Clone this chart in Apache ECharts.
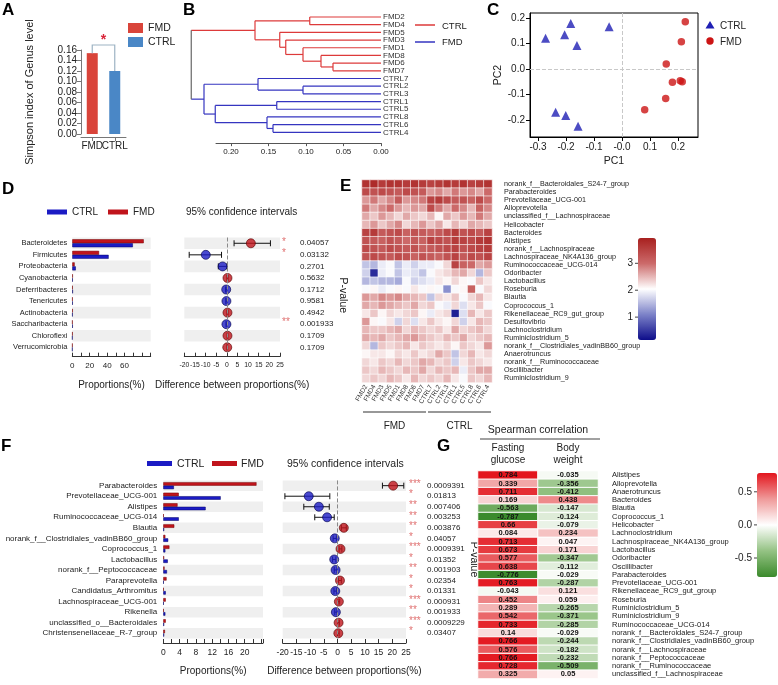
<!DOCTYPE html>
<html><head><meta charset="utf-8">
<script src="https://cdn.jsdelivr.net/npm/echarts@6/dist/echarts.min.js"></script>
<style>html,body{margin:0;padding:0;background:#fff}#c{width:778px;height:685px}</style>
</head><body><div id="c"></div>
<script>
// ================= DATA =================
// A: Simpson index
const simpsonGroups = ['FMD', 'CTRL'];
const simpsonValues = [0.154, 0.120];
const simpsonSigText = '*';
const simpsonSigLevel = 0.1695;

// B: dendrogram
const dendroLeaves = ['FMD2','FMD4','FMD5','FMD3','FMD1','FMD8','FMD6','FMD7','CTRL7','CTRL2','CTRL3','CTRL1','CTRL5','CTRL8','CTRL6','CTRL4'];
const dendroMerges = [
  ['FMD2','FMD4',0.095], ['FMD6','FMD7',0.064], ['FMD8','n1',0.080], ['FMD1','n2',0.104],
  ['FMD3','n3',0.127], ['FMD5','n4',0.135], ['n0','n5',0.168],
  ['CTRL2','CTRL3',0.104], ['CTRL7','n7',0.164], ['CTRL1','CTRL5',0.139], ['CTRL6','CTRL4',0.144],
  ['CTRL8','n10',0.152], ['n9','n11',0.221], ['n8','n12',0.236], ['n6','n13',0.253]
];

// C: PCA
const pcaCtrl = [[-0.273,0.122],[-0.205,0.135],[-0.183,0.180],[-0.161,0.093],[-0.046,0.167],[-0.237,-0.170],[-0.201,-0.182],[-0.157,-0.225]];
const pcaFmd = [[0.226,0.187],[0.212,0.108],[0.158,0.020],[0.180,-0.052],[0.208,-0.046],[0.215,-0.050],[0.156,-0.115],[0.081,-0.160]];
const pcaXTicks = [-0.3,-0.2,-0.1,0,0.1,0.2];
const pcaYTicks = [-0.2,-0.1,0,0.1,0.2];

// D: phylum level
const phylumNames = ['Bacteroidetes','Firmicutes','Proteobacteria','Cyanobacteria','Deferribacteres','Tenericutes','Actinobacteria','Saccharibacteria','Chloroflexi','Verrucomicrobia'];
const phylumFmd  = [82.0, 30.7, 2.7, 0.6, 0.4, 0.3, 0.5, 0.2, 0.3, 0.2];
const phylumCtrl = [69.5, 41.7, 4.0, 0.5, 0.7, 0.5, 0.3, 0.5, 0.1, 0.1];
const phylumDiff = [11.3, -9.9, -2.0, 0.3, -0.3, -0.2, 0.3, -0.2, 0.3, 0.2];
const phylumLow  = [3.4, -17.7, -4.0, 0.0, -0.6, -0.5, 0.0, -0.4, 0.1, 0.0];
const phylumHigh = [20.5, -2.5, 0.0, 0.6, 0.0, 0.1, 0.6, 0.0, 0.5, 0.4];
const phylumStars = ['*','*','','','','','','**','',''];
const phylumP = ['0.04057','0.03132','0.2701','0.5632','0.1712','0.9581','0.4942','0.001933','0.1709','0.1709'];

// E: heatmap
const heatmapSamples = ['FMD2','FMD4','FMD3','FMD5','FMD1','FMD8','FMD6','FMD7','CTRL7','CTRL2','CTRL3','CTRL1','CTRL5','CTRL8','CTRL6','CTRL4'];
const heatmapGenus = ['norank_f__Bacteroidales_S24-7_group','Parabacteroides','Prevotellaceae_UCG-001','Alloprevotella','unclassified_f__Lachnospiraceae','Helicobacter','Bacteroides','Alistipes','norank_f__Lachnospiraceae','Lachnospiraceae_NK4A136_group','Ruminococcaceae_UCG-014','Odoribacter','Lactobacillus','Roseburia','Blautia','Coprococcus_1','Rikenellaceae_RC9_gut_group','Desulfovibrio','Lachnoclostridium','Ruminiclostridium_5','norank_f__Clostridiales_vadinBB60_group','Anaerotruncus','norank_f__Ruminococcaceae','Oscillibacter','Ruminiclostridium_9'];
const heatmapValues = [
  [3.7,3.8,3.6,3.7,3.7,3.6,3.7,3.6, 3.5,3.6,3.7,3.6,3.7,3.5,3.6,3.7],
  [3.4,3.3,3.4,3.3,3.2,3.4,3.3,3.2, 2.7,2.8,2.6,2.9,2.7,2.8,2.6,3.0],
  [2.7,2.9,2.6,2.8,3.2,2.7,2.8,2.9, 3.5,3.6,3.4,3.2,3.3,3.1,3.4,3.0],
  [2.9,2.6,2.8,3.0,2.7,2.5,2.7,2.6, 3.4,2.9,2.6,3.0,2.8,2.5,3.1,2.8],
  [2.6,2.4,2.7,2.5,2.3,2.6,2.4,2.3, 2.5,2.1,2.6,2.4,2.7,2.5,2.9,2.6],
  [2.5,2.7,2.4,2.6,2.8,2.3,2.5,2.7, 2.4,2.6,2.2,2.5,2.3,2.6,2.5,2.4],
  [3.5,3.6,3.2,3.3,3.4,3.1,3.3,3.2, 3.1,3.2,3.4,3.6,3.3,3.4,3.2,3.5],
  [3.3,3.2,3.1,3.3,3.2,3.0,3.2,3.1, 3.5,3.4,3.3,3.6,3.5,3.4,3.6,3.7],
  [3.4,3.3,3.2,3.4,3.3,3.2,3.3,3.1, 3.2,3.3,3.4,3.5,3.3,3.4,3.5,3.6],
  [3.3,3.4,3.3,3.2,3.4,3.3,3.1,3.3, 3.2,3.1,3.3,3.5,3.2,3.4,3.3,3.5],
  [1.6,1.5,1.9,2.0,1.6,1.9,1.7,1.9, 1.9,2.0,2.3,3.5,3.1,3.0,2.6,2.7],
  [1.7,0.4,1.9,2.0,1.6,1.9,1.8,1.6, 2.0,2.2,2.3,2.5,2.6,2.3,1.5,2.4],
  [1.5,1.6,1.5,1.5,1.4,2.0,1.7,1.8, 1.9,2.2,2.1,2.3,2.1,2.0,2.4,2.2],
  [2.0,2.1,1.9,2.0,2.1,2.0,2.2,2.0, 2.1,2.0,1.2,2.0,2.1,3.1,2.0,2.3],
  [2.7,2.6,2.8,2.7,2.8,2.6,2.5,2.4, 1.6,2.3,2.2,2.4,2.0,2.3,2.5,2.2],
  [2.6,2.5,2.7,2.6,2.5,2.4,2.6,2.3, 2.4,2.0,1.9,2.3,1.8,2.2,2.4,2.0],
  [2.2,2.4,2.1,2.3,2.2,2.3,2.4,2.1, 1.9,2.2,2.3,0.3,1.8,2.5,2.2,2.4],
  [2.7,2.1,2.0,2.2,1.7,2.3,1.8,2.2, 2.4,2.2,2.1,2.3,1.7,2.2,2.5,2.4],
  [2.5,2.4,2.4,2.5,2.6,2.3,2.5,2.4, 2.3,2.4,2.2,2.6,2.3,2.4,2.5,2.3],
  [2.6,2.5,2.6,2.4,2.5,2.6,2.7,2.5, 2.4,2.3,2.5,2.4,2.6,2.3,2.4,2.5],
  [2.3,1.5,2.4,2.3,2.4,2.5,2.2,2.4, 2.3,2.2,2.3,2.1,2.4,2.3,2.2,2.7],
  [2.1,2.2,2.2,2.1,2.3,2.2,2.4,2.2, 2.3,2.6,2.4,1.6,2.3,2.5,2.2,2.3],
  [2.3,2.2,2.4,2.3,2.5,2.3,2.4,2.6, 2.5,2.3,2.4,1.7,2.2,2.4,2.3,2.2],
  [2.4,2.3,2.5,2.4,2.3,2.5,2.4,2.6, 2.3,2.5,2.4,2.5,1.9,2.4,2.6,2.6],
  [2.3,2.4,2.3,2.5,2.4,2.2,2.5,2.3, 2.4,2.3,2.5,2.2,2.0,2.4,2.3,2.5]
];
const heatmapScaleTicks = [3, 2, 1];

// F: genus level
const genusNames = ['Parabacteroides','Prevotellaceae_UCG-001','Alistipes','Ruminococcaceae_UCG-014','Blautia','norank_f__Clostridiales_vadinBB60_group','Coprococcus_1','Lactobacillus','norank_f__Peptococcaceae','Paraprevotella','Candidatus_Arthromitus','Lachnospiraceae_UCG-001','Rikenella','unclassified_o__Bacteroidales','Christensenellaceae_R-7_group'];
const genusFmd  = [22.9, 3.8, 3.5, 0.1, 2.7, 0.5, 1.5, 0.2, 0.3, 0.8, 0.1, 0.6, 0.1, 0.6, 0.4];
const genusCtrl = [2.6, 14.1, 10.4, 3.8, 0.2, 1.2, 0.5, 1.1, 0.9, 0.1, 0.6, 0.1, 0.5, 0.2, 0.2];
const genusDiff = [20.3, -10.5, -6.8, -3.8, 2.3, -1.0, 1.1, -1.2, -0.7, 0.9, -0.8, 0.5, -0.6, 0.4, 0.3];
const genusLow  = [16.4, -19.2, -12.3, -8.3, 1.4, -1.6, 0.6, -1.8, -1.2, 0.4, -1.3, 0.2, -1.0, 0.1, 0.0];
const genusHigh = [24.2, -2.8, -3.0, -1.2, 3.2, -0.4, 1.6, -0.6, -0.2, 1.4, -0.3, 0.8, -0.2, 0.7, 0.6];
const genusStars = ['***','*','**','**','**','*','***','*','**','*','*','***','**','***','*'];
const genusP = ['0.0009391','0.01813','0.007406','0.003253','0.003876','0.04057','0.0009391','0.01352','0.001903','0.02354','0.01331','0.000931','0.001933','0.0009229','0.03407'];

// G: Spearman correlation
const corrCols = ['Fasting\nglucose', 'Body\nweight'];
const corrGenus = ['Alistipes','Alloprevotella','Anaerotruncus','Bacteroides','Blautia','Coprococcus_1','Helicobacter','Lachnoclostridium','Lachnospiraceae_NK4A136_group','Lactobacillus','Odoribacter','Oscillibacter','Parabacteroides','Prevotellaceae_UCG-001','Rikenellaceae_RC9_gut_group','Roseburia','Ruminiclostridium_5','Ruminiclostridium_9','Ruminococcaceae_UCG-014','norank_f__Bacteroidales_S24-7_group','norank_f__Clostridiales_vadinBB60_group','norank_f__Lachnospiraceae','norank_f__Peptococcaceae','norank_f__Ruminococcaceae','unclassified_f__Lachnospiraceae'];
const corrGlucose = [0.784,0.339,0.711,0.169,-0.563,-0.787,0.66,0.084,0.713,0.673,0.577,0.638,-0.776,0.763,-0.043,0.452,0.289,0.542,0.733,0.14,0.766,0.576,0.766,0.728,0.325];
const corrWeight = [-0.035,-0.356,-0.412,0.438,-0.147,-0.124,-0.079,0.234,0.047,0.171,-0.347,-0.112,-0.029,-0.287,0.121,0.059,-0.265,-0.371,-0.285,-0.029,-0.244,-0.182,-0.232,-0.509,0.05];
const corrScaleTicks = [0.5, 0, -0.5];

// ================= STYLE =================
const FF = '"Liberation Sans", Arial, Helvetica, sans-serif';
const A_RED = '#d9443a', A_BLUE = '#4a87c6';
const D_RED = '#c0141c', D_BLUE = '#1b1bc4';
const DEN_RED = '#dd3a3a', DEN_BLUE = '#3535c0', DEN_GRAY = '#666';
const STAR = '#e07272';
const BAND = '#efefef';

const chart = echarts.init(document.getElementById('c'));

// dendrogram node layout
const nodeInfo = {};
dendroLeaves.forEach((n, i) => nodeInfo[n] = {y: i, h: 0, grp: n.indexOf('FMD') === 0 ? 'FMD' : 'CTRL'});
dendroMerges.forEach((m, k) => {
  const a = nodeInfo[m[0]], b = nodeInfo[m[1]];
  nodeInfo['n' + k] = {y: (a.y + b.y) / 2, h: m[2], grp: a.grp === b.grp ? a.grp : 'mix', a: a, b: b};
});
const grpColor = g => g === 'FMD' ? DEN_RED : (g === 'CTRL' ? DEN_BLUE : DEN_GRAY);

function errBar(low, high) {
  return function (params, api) {
    const i = params.dataIndex;
    const p1 = api.coord([low[i], i]), p2 = api.coord([high[i], i]);
    const h = 3, st = {stroke: '#111', lineWidth: 1};
    return {type: 'group', children: [
      {type: 'line', shape: {x1: p1[0], y1: p1[1], x2: p2[0], y2: p2[1]}, style: st},
      {type: 'line', shape: {x1: p1[0], y1: p1[1] - h, x2: p1[0], y2: p1[1] + h}, style: st},
      {type: 'line', shape: {x1: p2[0], y1: p2[1] - h, x2: p2[0], y2: p2[1] + h}, style: st}
    ]};
  };
}
function starText(stars, dx, fs) {
  return function (params, api) {
    const i = params.dataIndex;
    const cs = params.coordSys;
    const y = api.coord([0, i])[1];
    return {type: 'text', x: cs.x + cs.width + dx, y: y - 1.5,
      style: {text: stars[i], fill: STAR, fontSize: fs, fontFamily: FF, align: 'left', verticalAlign: 'middle'}};
  };
}

const noLine = {show: false}, noTick = {show: false}, noSplit = {show: false};
const bandArea = {show: true, interval: 0, areaStyle: {color: [BAND, 'rgba(255,255,255,0)']}};

const grids = [
  {left: 81, top: 50, width: 45, height: 84},            // 0 A
  {left: 216, top: 13.15, width: 165, height: 123},        // 1 B
  {left: 530, top: 13, width: 168, height: 124, show: true, borderColor: '#000', borderWidth: 1, backgroundColor: 'rgba(0,0,0,0)'}, // 2 C
  {left: 72.3, top: 237.5, width: 78.4, height: 115.6},    // 3 D bars
  {left: 184.3, top: 237.5, width: 95.7, height: 115.6},   // 4 D CI
  {left: 362, top: 180, width: 130, height: 202.5},        // 5 E
  {left: 163.3, top: 480.4, width: 99.7, height: 158.1},   // 6 F bars
  {left: 282.7, top: 480.4, width: 123.3, height: 158.1},  // 7 F CI
  {left: 478, top: 471, width: 120, height: 207.5}         // 8 G
].map(g => Object.assign({outerBoundsMode: 'none', containLabel: false}, g));

const lbl = (fs, extra) => Object.assign({fontSize: fs, color: '#222', fontFamily: FF, hideOverlap: false}, extra || {});

const xAxis = [
  {gridIndex: 0, type: 'category', data: simpsonGroups, offset: 3,
    axisLine: {show: true, onZero: false, lineStyle: {color: '#777'}}, axisTick: {show: true, alignWithLabel: true, length: 4, lineStyle: {color: '#777'}},
    axisLabel: lbl(10, {margin: 4, interval: 0}), splitLine: noSplit},
  {gridIndex: 1, type: 'value', min: 0, max: 0.22, interval: 0.05, inverse: true, offset: 7,
    axisLine: {show: true, onZero: false, lineStyle: {color: '#555'}}, axisTick: {show: true, length: 3, lineStyle: {color: '#555'}},
    axisLabel: lbl(8, {margin: 5, formatter: v => v.toFixed(2)}), splitLine: noSplit},
  {gridIndex: 2, type: 'value', min: -0.3286, max: 0.2714,
    axisLine: {show: true, onZero: false, lineStyle: {color: '#000'}},
    axisTick: {show: true, customValues: pcaXTicks, length: 4, lineStyle: {color: '#000'}},
    axisLabel: lbl(10, {customValues: pcaXTicks, margin: 5, formatter: v => (Math.abs(v) < 1e-9 ? '-0.0' : v.toFixed(1))}),
    splitLine: noSplit, name: 'PC1', nameLocation: 'middle', nameGap: 19, nameTextStyle: lbl(10.5)},
  {gridIndex: 3, type: 'value', min: 0, max: 90, interval: 10, offset: 3.6,
    axisLine: {show: true, onZero: false, lineStyle: {color: '#333'}}, axisTick: {show: true, inside: true, length: 4, lineStyle: {color: '#333'}},
    axisLabel: lbl(8, {margin: 5, formatter: v => (v <= 60 && v % 20 === 0 ? String(v) : '')}), splitLine: noSplit,
    name: 'Proportions(%)', nameLocation: 'middle', nameGap: 24, nameTextStyle: lbl(10)},
  {gridIndex: 4, type: 'value', min: -20, max: 25, interval: 5, offset: 3.6,
    axisLine: {show: true, onZero: false, lineStyle: {color: '#333'}}, axisTick: {show: true, inside: true, length: 4, lineStyle: {color: '#333'}},
    axisLabel: lbl(6.8, {margin: 5}), splitLine: noSplit,
    name: 'Difference between proportions(%)', nameLocation: 'middle', nameGap: 24, nameTextStyle: lbl(10)},
  {gridIndex: 5, type: 'category', data: heatmapSamples, axisLine: noLine, axisTick: noTick,
    axisLabel: lbl(6.5, {rotate: 60, interval: 0, margin: 3, color: '#333'}), splitLine: noSplit},
  {gridIndex: 6, type: 'value', min: 0, max: 24.5, interval: 2, offset: 4.5,
    axisLine: {show: true, onZero: false, lineStyle: {color: '#333'}}, axisTick: {show: true, inside: true, length: 4, lineStyle: {color: '#333'}},
    axisLabel: lbl(8.5, {margin: 5, formatter: v => (v <= 20 && v % 4 === 0 ? String(v) : '')}), splitLine: noSplit,
    name: 'Proportions(%)', nameLocation: 'middle', nameGap: 23, nameTextStyle: lbl(10)},
  {gridIndex: 7, type: 'value', min: -20, max: 25, interval: 5, offset: 4.5,
    axisLine: {show: true, onZero: false, lineStyle: {color: '#333'}}, axisTick: {show: true, inside: true, length: 4, lineStyle: {color: '#333'}},
    axisLabel: lbl(8.5, {margin: 5}), splitLine: noSplit,
    name: 'Difference between proportions(%)', nameLocation: 'middle', nameGap: 23, nameTextStyle: lbl(10)},
  {gridIndex: 8, type: 'category', data: corrCols, position: 'top', axisLine: noLine, axisTick: noTick,
    axisLabel: lbl(10, {margin: 5, lineHeight: 12, interval: 0}), splitLine: noSplit}
];

const yAxis = [
  {gridIndex: 0, type: 'value', min: 0, max: 0.16, interval: 0.02,
    axisLine: {show: true, onZero: false, lineStyle: {color: '#777'}}, axisTick: {show: true, length: 4, lineStyle: {color: '#777'}},
    axisLabel: lbl(10, {margin: 4, formatter: v => v.toFixed(2)}), splitLine: noSplit,
    name: 'Simpson index of Genus level', nameLocation: 'middle', nameGap: 46, nameTextStyle: lbl(11)},
  {gridIndex: 1, type: 'value', min: -0.5, max: 15.5, inverse: true, show: false, splitLine: noSplit},
  {gridIndex: 2, type: 'value', min: -0.267, max: 0.221,
    axisLine: {show: true, onZero: false, lineStyle: {color: '#000'}},
    axisTick: {show: true, customValues: pcaYTicks, length: 4, lineStyle: {color: '#000'}},
    axisLabel: lbl(10, {customValues: pcaYTicks, margin: 5, formatter: v => (Math.abs(v) < 1e-9 ? '0.0' : v.toFixed(1))}),
    splitLine: noSplit, name: 'PC2', nameLocation: 'middle', nameGap: 24, nameTextStyle: lbl(10.5)},
  {gridIndex: 3, type: 'category', data: phylumNames, inverse: true, axisLine: noLine, axisTick: noTick,
    axisLabel: lbl(7.5, {interval: 0, margin: 5}), splitArea: bandArea, splitLine: noSplit},
  {gridIndex: 4, type: 'category', data: phylumNames, inverse: true, axisLine: noLine, axisTick: noTick,
    axisLabel: {show: false}, splitArea: bandArea, splitLine: noSplit},
  {gridIndex: 4, type: 'category', data: phylumNames, inverse: true, position: 'right', axisLine: noLine, axisTick: noTick,
    axisLabel: lbl(8, {interval: 0, margin: 20, formatter: (v, i) => phylumP[i]}), splitLine: noSplit,
    name: 'P-value', nameLocation: 'middle', nameRotate: -90, nameGap: 43, nameTextStyle: lbl(10.5)},
  {gridIndex: 5, type: 'category', data: heatmapGenus, inverse: true, position: 'right', axisLine: noLine, axisTick: noTick,
    axisLabel: lbl(7.2, {interval: 0, margin: 12}), splitLine: noSplit},
  {gridIndex: 6, type: 'category', data: genusNames, inverse: true, axisLine: noLine, axisTick: noTick,
    axisLabel: lbl(8, {interval: 0, margin: 6}), splitArea: bandArea, splitLine: noSplit},
  {gridIndex: 7, type: 'category', data: genusNames, inverse: true, axisLine: noLine, axisTick: noTick,
    axisLabel: {show: false}, splitArea: bandArea, splitLine: noSplit},
  {gridIndex: 7, type: 'category', data: genusNames, inverse: true, position: 'right', axisLine: noLine, axisTick: noTick,
    axisLabel: lbl(8, {interval: 0, margin: 21, formatter: (v, i) => genusP[i]}), splitLine: noSplit,
    name: 'P-value', nameLocation: 'middle', nameRotate: -90, nameGap: 57, nameTextStyle: lbl(10.5)},
  {gridIndex: 8, type: 'category', data: corrGenus, inverse: true, position: 'right', axisLine: noLine, axisTick: noTick,
    axisLabel: lbl(7.5, {interval: 0, margin: 14}), splitLine: noSplit},
  {gridIndex: 1, type: 'category', data: dendroLeaves, inverse: true, position: 'right', axisLine: noLine, axisTick: noTick,
    axisLabel: lbl(8, {interval: 0, margin: 2, color: '#333'}), splitLine: noSplit}
];

const series = [];
// A
series.push({type: 'bar', xAxisIndex: 0, yAxisIndex: 0, barWidth: 11, silent: true,
  data: simpsonValues.map((v, i) => ({value: v, itemStyle: {color: i === 0 ? A_RED : A_BLUE}}))});
series.push({type: 'custom', xAxisIndex: 0, yAxisIndex: 0, data: [[0, 0]], silent: true, z: 5,
  renderItem: (p, api) => {
    const a0 = api.coord([0, simpsonValues[0]]), a1 = api.coord([0, simpsonSigLevel]);
    const b1 = api.coord([1, simpsonSigLevel]), b0 = api.coord([1, simpsonValues[1]]);
    return {type: 'group', children: [
      {type: 'polyline', shape: {points: [a0, a1, b1, b0]}, style: {stroke: '#9db3c4', lineWidth: 1.2, fill: null}},
      {type: 'text', x: (a1[0] + b1[0]) / 2, y: a1[1] + 2, style: {text: simpsonSigText, fill: '#d9253a', fontSize: 14, fontWeight: 'bold', fontFamily: FF, align: 'center', verticalAlign: 'bottom'}}
    ]};
  }});
// B
series.push({type: 'custom', xAxisIndex: 1, yAxisIndex: 1, silent: true,
  data: dendroMerges.map((m, k) => [m[2], k]),
  renderItem: (p, api) => {
    const nd = nodeInfo['n' + p.dataIndex];
    const ch = [];
    [nd.a, nd.b].forEach(c => {
      const s = api.coord([c.h, c.y]), e = api.coord([nd.h, c.y]);
      ch.push({type: 'line', shape: {x1: s[0], y1: s[1], x2: e[0], y2: e[1]}, style: {stroke: grpColor(c.grp), lineWidth: 1.2}});
    });
    const v1 = api.coord([nd.h, nd.a.y]), v2 = api.coord([nd.h, nd.b.y]);
    ch.push({type: 'line', shape: {x1: v1[0], y1: v1[1], x2: v2[0], y2: v2[1]}, style: {stroke: grpColor(nd.grp), lineWidth: 1.2}});
    return {type: 'group', children: ch};
  }});
// C
series.push({type: 'scatter', xAxisIndex: 2, yAxisIndex: 2, symbol: 'triangle', symbolSize: 9, silent: true,
  itemStyle: {color: '#1f1fb4'}, data: pcaCtrl,
  markLine: {silent: true, symbol: 'none', label: {show: false}, lineStyle: {type: 'dashed', color: '#c8c8c8', width: 1},
    data: [{xAxis: 0}, {yAxis: 0}]}});
series.push({type: 'scatter', xAxisIndex: 2, yAxisIndex: 2, symbol: 'circle', symbolSize: 7.5, silent: true,
  itemStyle: {color: '#cc1414'}, data: pcaFmd});
// D
series.push({type: 'bar', name: 'FMD', xAxisIndex: 3, yAxisIndex: 3, barWidth: 4, barGap: '0%', silent: true,
  itemStyle: {color: D_RED, borderColor: '#700', borderWidth: 0.5}, data: phylumFmd});
series.push({type: 'bar', name: 'CTRL', xAxisIndex: 3, yAxisIndex: 3, barWidth: 4, barGap: '0%', silent: true,
  itemStyle: {color: D_BLUE, borderColor: '#006', borderWidth: 0.5}, data: phylumCtrl});
series.push({type: 'custom', xAxisIndex: 4, yAxisIndex: 4, silent: true, z: 2,
  data: phylumDiff.map((d, i) => [d, i]), renderItem: errBar(phylumLow, phylumHigh)});
series.push({type: 'scatter', xAxisIndex: 4, yAxisIndex: 4, symbolSize: 9, silent: true, z: 3,
  data: phylumDiff.map((d, i) => ({value: [d, i], itemStyle: {color: d >= 0 ? D_RED : D_BLUE, borderColor: d >= 0 ? '#5a0000' : '#00004a', borderWidth: 0.8}})),
  markLine: {silent: true, symbol: 'none', label: {show: false}, lineStyle: {type: 'dashed', color: '#8a8a8a', width: 1}, data: [{xAxis: 0}]}});
series.push({type: 'custom', xAxisIndex: 4, yAxisIndex: 4, silent: true,
  data: phylumStars.map((s, i) => [0, i]), renderItem: starText(phylumStars, 2, 10)});
// E
const eIdx = series.length;
const eData = [];
heatmapValues.forEach((row, r) => row.forEach((v, c) => eData.push([c, r, v])));
series.push({type: 'heatmap', xAxisIndex: 5, yAxisIndex: 6, data: eData, silent: true,
  itemStyle: {borderColor: '#fff', borderWidth: 0.6}, emphasis: {disabled: true}});
// F
series.push({type: 'bar', name: 'FMD', xAxisIndex: 6, yAxisIndex: 7, barWidth: 3.5, barGap: '0%', silent: true,
  itemStyle: {color: D_RED, borderColor: '#700', borderWidth: 0.5}, data: genusFmd});
series.push({type: 'bar', name: 'CTRL', xAxisIndex: 6, yAxisIndex: 7, barWidth: 3.5, barGap: '0%', silent: true,
  itemStyle: {color: D_BLUE, borderColor: '#006', borderWidth: 0.5}, data: genusCtrl});
series.push({type: 'custom', xAxisIndex: 7, yAxisIndex: 8, silent: true, z: 2,
  data: genusDiff.map((d, i) => [d, i]), renderItem: errBar(genusLow, genusHigh)});
series.push({type: 'scatter', xAxisIndex: 7, yAxisIndex: 8, symbolSize: 9, silent: true, z: 3,
  data: genusDiff.map((d, i) => ({value: [d, i], itemStyle: {color: d >= 0 ? D_RED : D_BLUE, borderColor: d >= 0 ? '#5a0000' : '#00004a', borderWidth: 0.8}})),
  markLine: {silent: true, symbol: 'none', label: {show: false}, lineStyle: {type: 'dashed', color: '#8a8a8a', width: 1}, data: [{xAxis: 0}]}});
series.push({type: 'custom', xAxisIndex: 7, yAxisIndex: 8, silent: true,
  data: genusStars.map((s, i) => [0, i]), renderItem: starText(genusStars, 3, 10)});
// G
const gIdx = series.length;
const gData = [];
corrGenus.forEach((n, r) => { gData.push([0, r, corrGlucose[r]]); gData.push([1, r, corrWeight[r]]); });
series.push({type: 'heatmap', xAxisIndex: 8, yAxisIndex: 10, data: gData, silent: true,
  itemStyle: {borderColor: '#fff', borderWidth: 1}, emphasis: {disabled: true},
  label: {show: true, fontSize: 7.5, fontWeight: 'bold', color: '#111', fontFamily: FF, formatter: p => String(p.value[2])}});

const eVM = {min: 0.15, max: 3.94, left: 638, top: 238, w: 18, h: 102};
const gVM = {min: -0.787, max: 0.784, left: 757, top: 473, w: 20, h: 104};
const visualMap = [
  {type: 'continuous', seriesIndex: eIdx, min: eVM.min, max: eVM.max, left: eVM.left, top: eVM.top,
    itemWidth: eVM.w, itemHeight: eVM.h, padding: 0, calculable: false, hoverLink: false, orient: 'vertical',
    inRange: {color: ['#0d0d8a', '#7c82c8', '#ffffff', '#cc6a6a', '#a8201f']}, textStyle: {fontSize: 1}},
  {type: 'continuous', seriesIndex: gIdx, min: gVM.min, max: gVM.max, left: gVM.left, top: gVM.top,
    itemWidth: gVM.w, itemHeight: gVM.h, padding: 0, calculable: false, hoverLink: false, orient: 'vertical',
    inRange: {color: ['#3b8a2c', '#94c283', '#ffffff', '#ef9a9a', '#e3151d']}, textStyle: {fontSize: 1}}
];

// ----- graphic: labels, legends, headers -----
const g = [];
function txt(x, y, t, opt) { g.push({type: 'text', x: x, y: y, silent: true, style: Object.assign({text: t, fill: '#222', fontSize: 10, fontFamily: FF, verticalAlign: 'middle', align: 'left'}, opt || {})}); }
function rect(x, y, w, h, c) { g.push({type: 'rect', silent: true, shape: {x: x, y: y, width: w, height: h}, style: {fill: c}}); }
function line(x1, y1, x2, y2, c, w) { g.push({type: 'line', silent: true, shape: {x1: x1, y1: y1, x2: x2, y2: y2}, style: {stroke: c, lineWidth: w || 1}}); }
const letter = {fontSize: 17, fontWeight: 'bold', fill: '#000'};
txt(2, 10, 'A', letter); txt(183, 10, 'B', letter); txt(487, 10, 'C', letter);
txt(2, 189, 'D', letter); txt(340, 186, 'E', letter); txt(1, 446, 'F', letter); txt(437, 446, 'G', letter);
// A legend
rect(128, 23, 15, 10, A_RED); rect(128, 37, 15, 10, A_BLUE);
txt(148, 28.5, 'FMD', {fontSize: 10.5}); txt(148, 42.5, 'CTRL', {fontSize: 10.5});
// B legend
line(415, 25, 435, 25, DEN_RED, 1.5); line(415, 42, 435, 42, DEN_BLUE, 1.5);
txt(442, 26, 'CTRL', {fontSize: 9.5}); txt(442, 42.5, 'FMD', {fontSize: 9.5});
// C legend
g.push({type: 'polygon', silent: true, shape: {points: [[710, 21], [714.5, 28.5], [705.5, 28.5]]}, style: {fill: '#1f1fb4'}});
g.push({type: 'circle', silent: true, shape: {cx: 710, cy: 41, r: 3.7}, style: {fill: '#cc1414'}});
txt(720, 26, 'CTRL', {fontSize: 10}); txt(720, 42, 'FMD', {fontSize: 10});
// D legend/header
rect(47, 209.5, 20, 5, D_BLUE); txt(72, 212, 'CTRL', {fontSize: 10});
rect(108, 209.5, 20, 5, D_RED); txt(133, 212, 'FMD', {fontSize: 10});
txt(186, 212, '95% confidence intervals', {fontSize: 10});
// F legend/header
rect(147, 461, 25, 5, D_BLUE); txt(177, 464, 'CTRL', {fontSize: 10.5});
rect(212, 461, 25, 5, D_RED); txt(241, 464, 'FMD', {fontSize: 10.5});
txt(287, 464, '95% confidence intervals', {fontSize: 10.5});
// E group brackets
const eCell = grids[5].width / heatmapSamples.length;
const nF = heatmapSamples.filter(s => s.indexOf('FMD') === 0).length;
const ex0 = grids[5].left, ex1 = ex0 + nF * eCell, ex2 = ex0 + heatmapSamples.length * eCell;
line(ex0 + 1, 412, ex1 - 1, 412, '#333', 1.2); line(ex1 + 1, 412, ex2 - 1, 412, '#333', 1.2);
txt((ex0 + ex1) / 2, 426, 'FMD', {align: 'center', fontSize: 10}); txt((ex1 + ex2) / 2, 426, 'CTRL', {align: 'center', fontSize: 10});
// E colour scale ticks
heatmapScaleTicks.forEach(v => {
  const y = eVM.top + (eVM.max - v) / (eVM.max - eVM.min) * eVM.h;
  line(eVM.left - 3, y, eVM.left, y, '#444'); txt(eVM.left - 5, y, String(v), {align: 'right', fontSize: 10});
});
// G header
txt(538, 430, 'Spearman correlation', {align: 'center', fontSize: 10.5});
line(480, 439, 600, 439, '#444', 1.2);
corrScaleTicks.forEach(v => {
  const y = gVM.top + (gVM.max - v) / (gVM.max - gVM.min) * gVM.h;
  line(gVM.left - 3, y, gVM.left, y, '#444'); txt(gVM.left - 5, y, v.toFixed(1), {align: 'right', fontSize: 10});
});

chart.setOption({
  animation: false,
  backgroundColor: '#fff',
  textStyle: {fontFamily: FF},
  grid: grids, xAxis: xAxis, yAxis: yAxis, series: series, visualMap: visualMap,
  graphic: g
});
</script></body></html>
